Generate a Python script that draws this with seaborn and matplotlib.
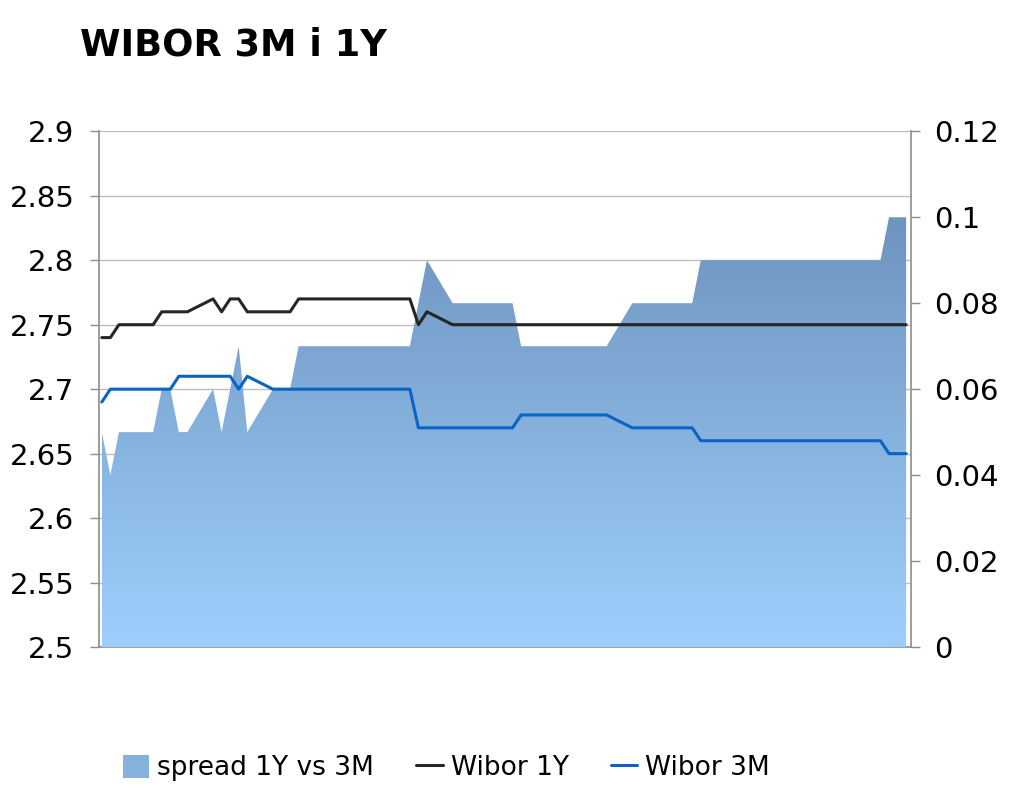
import numpy as np
import pandas as pd
import seaborn as sns
import matplotlib
matplotlib.use('Agg')
import matplotlib.pyplot as plt
import matplotlib.dates as mdates
from matplotlib.colors import LinearSegmentedColormap
from matplotlib.patches import Patch
from matplotlib.lines import Line2D

# fixing days 20 Aug - 22 Nov 2013 (no fixing on 1 and 11 Nov)
holidays = ['2013-11-01', '2013-11-11']
dates = pd.bdate_range('2013-08-20', '2013-11-22', freq='C', holidays=holidays)

wibor_1y = [
    2.74, 2.74, 2.75, 2.75, 2.75, 2.76, 2.76, 2.76, 2.76,                    # Aug
    2.77, 2.76, 2.77, 2.77, 2.76, 2.76, 2.76, 2.76, 2.77, 2.77,              # Sep
    2.77, 2.77, 2.77, 2.77, 2.77, 2.77, 2.77, 2.77, 2.75, 2.76, 2.75,
    2.75, 2.75, 2.75, 2.75, 2.75, 2.75, 2.75, 2.75, 2.75, 2.75, 2.75, 2.75,  # Oct
    2.75, 2.75, 2.75, 2.75, 2.75, 2.75, 2.75, 2.75, 2.75, 2.75, 2.75,
    2.75, 2.75, 2.75, 2.75, 2.75, 2.75, 2.75, 2.75, 2.75, 2.75, 2.75,        # Nov
    2.75, 2.75, 2.75,
]
wibor_3m = [
    2.69, 2.70, 2.70, 2.70, 2.70, 2.70, 2.70, 2.71, 2.71,                    # Aug
    2.71, 2.71, 2.71, 2.70, 2.71, 2.70, 2.70, 2.70, 2.70, 2.70,              # Sep
    2.70, 2.70, 2.70, 2.70, 2.70, 2.70, 2.70, 2.70, 2.67, 2.67, 2.67,
    2.67, 2.67, 2.67, 2.67, 2.67, 2.68, 2.68, 2.68, 2.68, 2.68, 2.68, 2.68,  # Oct
    2.68, 2.68, 2.67, 2.67, 2.67, 2.67, 2.67, 2.67, 2.66, 2.66, 2.66,
    2.66, 2.66, 2.66, 2.66, 2.66, 2.66, 2.66, 2.66, 2.66, 2.66, 2.66,        # Nov
    2.65, 2.65, 2.65,
]
spread = [
    0.05, 0.04, 0.05, 0.05, 0.05, 0.06, 0.06, 0.05, 0.05,                    # Aug
    0.06, 0.05, 0.06, 0.07, 0.05, 0.06, 0.06, 0.06, 0.07, 0.07,              # Sep
    0.07, 0.07, 0.07, 0.07, 0.07, 0.07, 0.07, 0.07, 0.08, 0.09, 0.08,
    0.08, 0.08, 0.08, 0.08, 0.08, 0.07, 0.07, 0.07, 0.07, 0.07, 0.07, 0.07,  # Oct
    0.07, 0.07, 0.08, 0.08, 0.08, 0.08, 0.08, 0.08, 0.09, 0.09, 0.09,
    0.09, 0.09, 0.09, 0.09, 0.09, 0.09, 0.09, 0.09, 0.09, 0.09, 0.09,        # Nov
    0.10, 0.10, 0.10,
]

x_ticks = pd.date_range('2013-08-20', periods=7, freq='14D')
x_tick_labels = ['20 sie', '3 wrz', '17 wrz', '1 paź', '15 paź', '29 paź', '12 lis']
left_ticks = [2.5, 2.55, 2.6, 2.65, 2.7, 2.75, 2.8, 2.85, 2.9]
right_ticks = [0, 0.02, 0.04, 0.06, 0.08, 0.1, 0.12]

df = pd.DataFrame({'Data': dates, 'Wibor 1Y': wibor_1y, 'Wibor 3M': wibor_3m,
                   'spread': spread})

sns.set_style('white')
plt.rcParams['font.family'] = ['DejaVu Sans']
plt.rcParams['text.color'] = 'black'
plt.rcParams['xtick.labelcolor'] = 'black'
plt.rcParams['ytick.labelcolor'] = 'black'

AXIS_GREY = '#8c8c8c'
BLACK_LINE = '#262626'
BLUE_LINE = '#0a64c4'
GRAD_TOP = '#6e94bf'
GRAD_BOTTOM = '#9ecffc'

fig = plt.figure(figsize=(10.24, 7.91), dpi=100)
ax = fig.add_axes([0.0965, 0.182, 0.793, 0.652])

# left axis: grid only (drawn under the area)
ax.set_ylim(2.5, 2.9)
ax.set_yticks(left_ticks)
ax.set_yticklabels([f'{t:g}' for t in left_ticks])
ax.yaxis.grid(True, color='#bdbdbd', linewidth=1)
ax.xaxis.grid(False)

# right axis: spread area with a vertical gradient
ax2 = ax.twinx()
poly = ax2.fill_between(df['Data'], df['spread'], 0, facecolor='none', edgecolor='none')
x0 = mdates.date2num(dates[0])
x1 = mdates.date2num(dates[-1])
cmap = LinearSegmentedColormap.from_list('grad', [GRAD_BOTTOM, GRAD_TOP])
grad = np.linspace(0, 1, 256).reshape(-1, 1)
img = ax2.imshow(grad, extent=[x0, x1, 0, max(spread)], aspect='auto',
                 origin='lower', cmap=cmap, interpolation='bicubic')
img.set_clip_path(poly.get_paths()[0], transform=ax2.transData)
ax2.set_ylim(0, 0.12)
ax2.set_yticks(right_ticks)
ax2.set_yticklabels([f'{t:g}' for t in right_ticks])

# lines on a third layer, same scale as the left axis
ax3 = ax.twinx()
sns.lineplot(data=df, x='Data', y='Wibor 1Y', color=BLACK_LINE, linewidth=2.2, ax=ax3)
sns.lineplot(data=df, x='Data', y='Wibor 3M', color=BLUE_LINE, linewidth=2.2, ax=ax3)
ax3.set_ylim(ax.get_ylim())
ax3.set_yticks([])
ax3.set_ylabel('')
ax3.set_xlabel('')

xlim = (x0 - 0.35, x1 + 0.55)
for a in (ax, ax2, ax3):
    a.set_xlim(xlim)
    for s in a.spines.values():
        s.set_visible(False)
    a.patch.set_visible(False)

ax.spines['left'].set_visible(True)
ax.spines['bottom'].set_visible(True)
ax2.spines['right'].set_visible(True)
for s in (ax.spines['left'], ax.spines['bottom'], ax2.spines['right']):
    s.set_color(AXIS_GREY)
    s.set_linewidth(1.2)

ax.set_xticks(x_ticks)
ax.set_xticklabels(x_tick_labels)
ax3.set_xticks([])
ax2.set_xticks([])

ax.tick_params(axis='y', which='major', direction='out', length=6.5, width=1,
               color=AXIS_GREY, labelcolor='black', labelsize=21, pad=11, left=True)
ax.tick_params(axis='x', which='major', direction='out', length=6, width=1,
               color=AXIS_GREY, labelcolor='black', labelsize=21, pad=17, bottom=True)
ax2.tick_params(axis='y', which='major', direction='out', length=6.5, width=1,
                color=AXIS_GREY, labelcolor='black', labelsize=21, pad=10, right=True)
ax.set_ylabel('')
ax2.set_ylabel('')

fig.text(0.078, 0.92, 'WIBOR 3M i 1Y', fontsize=26.5, fontweight='bold',
         color='black', ha='left', va='bottom')

handles = [Patch(facecolor='#86b1dd', edgecolor='none'),
           Line2D([0], [0], color=BLACK_LINE, linewidth=2.2),
           Line2D([0], [0], color=BLUE_LINE, linewidth=2.2)]
labels = ['spread 1Y vs 3M', 'Wibor 1Y', 'Wibor 3M']
fig.legend(handles, labels, loc='center', bbox_to_anchor=(0.436, 0.029), ncol=3,
           frameon=False, fontsize=19, handlelength=1.0, handletextpad=0.3,
           columnspacing=1.6, handleheight=1.0, labelcolor='black')

fig.savefig('out.png', dpi=100)
